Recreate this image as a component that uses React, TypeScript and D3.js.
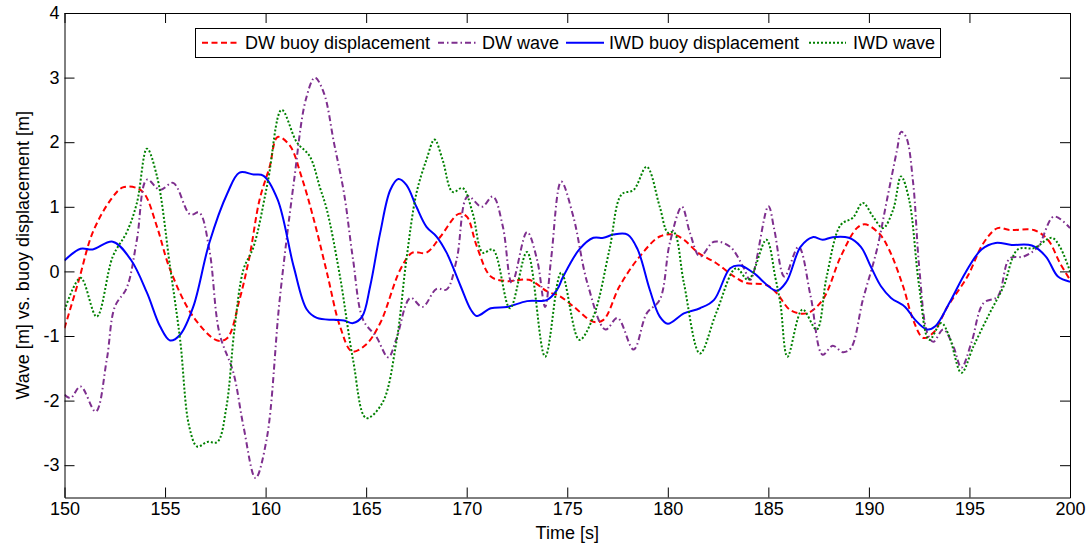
import React, { useEffect, useRef } from 'react';
import * as d3 from 'd3';

// time [s] / value [m] pairs
const dwBuoy: [number, number][] = [
  [150, -0.88], [150.7, -0.15], [151.4, 0.6], [152.3, 1.11], [152.9, 1.3], [153.6, 1.29], [154.0, 1.19],
  [154.6, 0.69], [155.25, 0.03], [156.4, -0.7], [157.6, -1.07], [158.1, -1.03], [158.7, -0.44],
  [159.2, 0.23], [159.7, 1.11], [160.2, 1.62], [160.6, 2.08], [161.2, 1.95], [161.8, 1.45],
  [162.4, 0.8], [163.05, -0.02], [163.7, -0.85], [164.3, -1.24], [165.0, -1.13], [165.7, -0.8],
  [166.7, 0.03], [167.3, 0.29], [168.0, 0.29], [168.7, 0.54], [169.6, 0.89], [170.0, 0.85],
  [170.5, 0.39], [171.2, -0.08], [172.0, -0.15], [173.1, -0.13], [174.0, -0.31], [174.6, -0.38],
  [175.3, -0.54], [176.3, -0.78], [176.8, -0.75], [177.6, -0.23], [178.6, 0.23], [179.6, 0.54],
  [180.3, 0.57], [180.8, 0.49], [181.5, 0.29], [182.4, 0.13], [183.3, -0.08], [183.9, -0.18],
  [184.9, -0.21], [185.4, -0.33], [186.1, -0.6], [186.9, -0.65], [187.7, -0.44], [188.6, 0.23],
  [189.4, 0.67], [189.8, 0.73], [190.5, 0.59], [191.0, 0.34], [191.7, -0.23], [192.2, -0.75],
  [192.7, -1.03], [193.2, -0.95], [193.9, -0.55], [194.9, -0.08], [195.7, 0.44], [196.4, 0.67],
  [197.0, 0.64], [198.2, 0.64], [198.9, 0.49], [199.5, 0.13], [200, -0.13],
];

const dwWave: [number, number][] = [
  [150, -1.91], [150.3, -1.96], [150.8, -1.78], [151.55, -2.17], [152.1, -1.37], [152.5, -0.55],
  [153.1, -0.25], [153.6, 0.49], [154.1, 1.42], [154.75, 1.26], [155.4, 1.37], [156.25, 0.88],
  [156.7, 0.91], [157.2, 0.34], [157.7, -0.95], [158.4, -1.57], [158.9, -2.4], [159.5, -3.2],
  [160.05, -2.6], [160.7, -0.44], [161.4, 1.37], [162.0, 2.66], [162.45, 3.0], [162.9, 2.76],
  [163.4, 1.99], [163.9, 1.21], [164.35, 0.18], [164.85, -0.75], [165.5, -1.01], [166.1, -1.33],
  [166.5, -1.05], [167.2, -0.41], [167.8, -0.55], [168.5, -0.27], [169.0, -0.28], [169.5, 0.18],
  [170.05, 1.16], [170.75, 1.0], [171.3, 1.16], [171.8, 0.69], [172.25, -0.18], [173.0, 0.61],
  [173.5, 0.18], [173.9, -0.55], [174.2, 0.2], [174.7, 1.39], [175.3, 0.85], [176.0, -0.18],
  [176.9, -0.9], [177.5, -0.72], [178.3, -1.21], [178.95, -0.65], [179.6, -0.44], [180.1, 0.44],
  [180.7, 1.0], [181.1, 0.6], [181.6, 0.23], [182.3, 0.46], [183.1, 0.38], [183.75, 0.07],
  [184.1, -0.13], [185.0, 1.01], [185.3, 0.64], [185.8, -0.08], [186.5, 0.38], [187.1, -0.38],
  [187.7, -1.29], [188.2, -1.15], [188.7, -1.25], [189.1, -1.19], [189.7, -0.44], [190.4, 0.34],
  [190.9, 1.11], [191.4, 1.88], [191.6, 2.16], [191.85, 2.08], [192.2, 1.37], [192.5, 0.07],
  [192.9, -0.95], [193.2, -1.09], [193.7, -0.9], [194.2, -1.16], [194.6, -1.49], [195.1, -1.1],
  [195.7, -0.49], [196.4, -0.39], [197.0, 0.2], [197.7, 0.23], [198.4, 0.38], [199.2, 0.85],
  [200, 0.67],
];

const iwdBuoy: [number, number][] = [
  [150, 0.17], [150.8, 0.35], [151.4, 0.34], [152.4, 0.46], [153.3, 0.18], [154.1, -0.33],
  [154.75, -0.85], [155.25, -1.07], [155.75, -0.98], [156.4, -0.55], [157.2, 0.44], [158.1, 1.21],
  [158.7, 1.53], [159.4, 1.5], [159.9, 1.48], [160.6, 1.11], [161.4, 0.07], [162.05, -0.59],
  [162.55, -0.72], [163.4, -0.75], [163.9, -0.76], [164.35, -0.8], [164.8, -0.7], [165.2, -0.23],
  [165.7, 0.6], [166.2, 1.26], [166.6, 1.43], [167.0, 1.34], [167.5, 1.0], [168.0, 0.69],
  [168.5, 0.54], [169.0, 0.29], [169.7, -0.23], [170.2, -0.59], [170.5, -0.69], [171.2, -0.57],
  [172.0, -0.55], [173.0, -0.46], [174.0, -0.44], [174.5, -0.28], [174.8, -0.08], [175.6, 0.34],
  [176.3, 0.52], [176.8, 0.52], [177.3, 0.57], [178.0, 0.57], [178.5, 0.34], [179.1, -0.28],
  [179.6, -0.7], [180.0, -0.81], [180.8, -0.65], [181.6, -0.57], [182.3, -0.44], [183.1, 0.05],
  [183.6, 0.09], [184.25, -0.02], [185.4, -0.3], [185.9, -0.16], [186.6, 0.38], [187.2, 0.53],
  [187.7, 0.49], [188.2, 0.53], [189.0, 0.52], [189.6, 0.38], [190.1, 0.07], [190.6, -0.23],
  [191.1, -0.41], [191.8, -0.55], [192.3, -0.75], [192.9, -0.9], [193.3, -0.85], [194.0, -0.49],
  [194.8, -0.02], [195.6, 0.34], [196.3, 0.44], [197.1, 0.41], [198.1, 0.4], [198.8, 0.23],
  [199.4, -0.08], [200, -0.16],
];

const iwdWave: [number, number][] = [
  [150, -0.6], [150.8, -0.1], [151.6, -0.7], [152.4, 0.23], [153.1, 0.61], [153.6, 1.06],
  [154.1, 1.9], [154.6, 1.47], [155.25, 0.07], [155.75, -1.06], [156.2, -2.4], [156.6, -2.71],
  [157.1, -2.64], [157.6, -2.64], [158.05, -2.1], [158.45, -0.9], [158.9, 0.03], [159.4, 0.38],
  [160.1, 1.37], [160.8, 2.5], [161.55, 2.0], [162.2, 1.78], [162.7, 1.3], [163.05, 0.95],
  [163.7, -0.08], [164.35, -1.37], [165.0, -2.27], [165.8, -2.04], [166.5, -1.1], [167.0, 0.18],
  [167.5, 1.21], [168.0, 1.73], [168.4, 2.04], [168.8, 1.73], [169.3, 1.23], [169.8, 1.29],
  [170.3, 0.9], [170.8, 0.29], [171.3, 0.34], [172.15, -0.57], [173.0, 0.3], [173.9, -1.32],
  [174.7, -0.02], [175.6, -1.06], [176.3, -0.7], [177.1, 0.34], [177.7, 1.19], [178.3, 1.26],
  [178.95, 1.62], [179.6, 1.0], [180.0, 0.6], [180.3, 0.61], [180.8, -0.18], [181.6, -1.27],
  [182.4, -0.65], [183.4, 0.05], [184.0, -0.13], [184.9, 0.49], [185.35, -0.1], [185.6, -0.5],
  [185.95, -1.32], [186.7, -0.59], [187.4, -0.9], [187.9, -0.08], [188.6, 0.72], [189.2, 0.83],
  [189.7, 1.06], [190.2, 0.85], [190.7, 0.67], [191.2, 0.95], [191.6, 1.47], [192.0, 1.11],
  [192.5, -0.23], [193.0, -1.06], [193.6, -0.8], [194.0, -1.01], [194.6, -1.57], [195.2, -1.16],
  [196.0, -0.65], [196.7, -0.23], [197.4, 0.34], [198.2, 0.36], [199.1, 0.52], [199.5, 0.38],
  [200, 0],
];

const xTicks = [150, 155, 160, 165, 170, 175, 180, 185, 190, 195, 200];
const yTicks = [-3, -2, -1, 0, 1, 2, 3, 4];

const series = [
  { name: 'DW buoy displacement', data: dwBuoy, color: '#ff0000', dash: '6,3.5' },
  { name: 'DW wave', data: dwWave, color: '#7e2f8e', dash: '6,3,1.5,3' },
  { name: 'IWD buoy displacement', data: iwdBuoy, color: '#0000ff', dash: null },
  { name: 'IWD wave', data: iwdWave, color: '#008000', dash: '2,2' },
];

// legend layout (sample start/end, text start)
const legendPos = [
  { x1: 202, x2: 238, tx: 245 },
  { x1: 438, x2: 477, tx: 482 },
  { x1: 566, x2: 604, tx: 609 },
  { x1: 809, x2: 846, tx: 853 },
];

const W = 1091;
const H = 545;
const left = 64.5, right = 1070, top = 13, bottom = 497.5;
const font = '"Liberation Sans", Arial, Helvetica, sans-serif';
// matlab prints a plain hyphen for negatives
const tickLabel = (d: d3.NumberValue) => String(d);

const App: React.FC = () => {
  const axesRef = useRef<SVGGElement>(null);

  const x = d3.scaleLinear().domain([150, 200]).range([left, right]);
  const y = d3.scaleLinear().domain([-3.5, 4]).range([bottom, top]);

  const line = d3.line<[number, number]>()
    .x(d => x(d[0]))
    .y(d => y(d[1]))
    .curve(d3.curveCatmullRom.alpha(0.5));

  useEffect(() => {
    if (!axesRef.current) return;
    const g = d3.select(axesRef.current);
    g.selectAll('*').remove();

    const styleAxis = (sel: d3.Selection<SVGGElement, unknown, null, undefined>) => {
      sel.selectAll('path').attr('stroke', '#000').attr('stroke-width', 1);
      sel.selectAll('line').attr('stroke', '#000').attr('stroke-width', 1);
      sel.selectAll('text').attr('fill', '#000').style('font-family', font).style('font-size', '18px');
    };

    g.append('g')
      .attr('transform', `translate(0,${bottom})`)
      .call(d3.axisBottom(x).tickValues(xTicks).tickSize(-10).tickSizeOuter(0).tickPadding(5).tickFormat(tickLabel))
      .call(styleAxis);

    g.append('g')
      .attr('transform', `translate(0,${top})`)
      .call(d3.axisTop(x).tickValues(xTicks).tickSize(-10).tickSizeOuter(0).tickFormat(() => ''))
      .call(styleAxis);

    g.append('g')
      .attr('transform', `translate(${left},0)`)
      .call(d3.axisLeft(y).tickValues(yTicks).tickSize(-10).tickSizeOuter(0).tickPadding(5).tickFormat(tickLabel))
      .call(styleAxis);

    g.append('g')
      .attr('transform', `translate(${right},0)`)
      .call(d3.axisRight(y).tickValues(yTicks).tickSize(-10).tickSizeOuter(0).tickFormat(() => ''))
      .call(styleAxis);

    g.selectAll('.domain').attr('fill', 'none');
  }, []);

  return (
    <svg width={W} height={H} style={{ position: 'absolute', left: 0, top: 0, background: '#fff' }}>
      <rect x={0} y={0} width={W} height={H} fill="#fff" />
      <defs>
        <clipPath id="plot-clip">
          <rect x={left} y={top} width={right - left} height={bottom - top} />
        </clipPath>
      </defs>
      <g clipPath="url(#plot-clip)">
        {series.map(s => (
          <path
            key={s.name}
            d={line(s.data) || ''}
            fill="none"
            stroke={s.color}
            strokeWidth={2}
            strokeDasharray={s.dash || undefined}
          />
        ))}
      </g>
      <g ref={axesRef} />

      {/* legend */}
      <rect x={195.5} y={28.5} width={745} height={29} fill="#fff" stroke="#000" strokeWidth={1} />
      {series.map((s, i) => (
        <g key={s.name}>
          <line
            x1={legendPos[i].x1}
            x2={legendPos[i].x2}
            y1={42.7}
            y2={42.7}
            stroke={s.color}
            strokeWidth={2}
            strokeDasharray={s.dash || undefined}
          />
          <text x={legendPos[i].tx} y={49.3} fontFamily={font} fontSize={18} fill="#000">
            {s.name}
          </text>
        </g>
      ))}

      <text x={(left + right) / 2} y={539} textAnchor="middle" fontFamily={font} fontSize={18} fill="#000">
        Time [s]
      </text>
      <text
        transform={`translate(29,${(top + bottom) / 2}) rotate(-90)`}
        textAnchor="middle"
        fontFamily={font}
        fontSize={18}
        fill="#000"
      >
        Wave [m] vs. buoy displacement [m]
      </text>
    </svg>
  );
};

export default App;
